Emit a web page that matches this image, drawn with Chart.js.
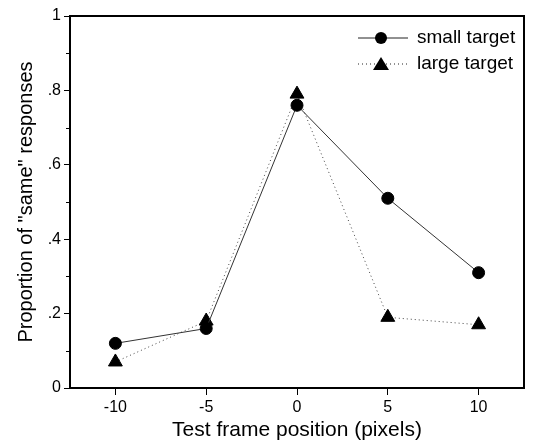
<!DOCTYPE html>
<html>
<head>
<meta charset="utf-8">
<script src="https://cdn.jsdelivr.net/npm/chart.js@4/dist/chart.umd.min.js"></script>
<style>
  html, body { margin: 0; padding: 0; background: #fff; }
  #wrap { width: 533px; height: 443px; }
</style>
</head>
<body>
<div id="wrap"><canvas id="chart" width="533" height="443"></canvas></div>
<script>
// data
var positions = [-10, -5, 0, 5, 10];
var smallTarget = [0.12, 0.16, 0.76, 0.51, 0.31];
var largeTarget = [0.07, 0.18, 0.79, 0.19, 0.17];
var xTicks = [-10, -5, 0, 5, 10];
var yTicks = [0, 0.2, 0.4, 0.6, 0.8, 1];
var yMinor = [0.1, 0.3, 0.5, 0.7, 0.9];

var FONT = "'Liberation Sans', Arial, Helvetica, sans-serif";

function pts(vals){
  return positions.map(function(x, i){ return {x: x, y: vals[i]}; });
}

function fmtY(v){
  if (Math.abs(v) < 1e-9) return '0';
  if (Math.abs(v - 1) < 1e-9) return '1';
  return v.toFixed(1).replace(/^0/, '');
}

// frame, minor ticks and the in-plot legend
var extras = {
  id: 'extras',
  afterDraw: function(chart){
    var c = chart.ctx, a = chart.chartArea, ys = chart.scales.y;
    c.save();
    c.strokeStyle = '#000';
    c.lineWidth = 2;
    c.beginPath();
    c.moveTo(a.left, a.top); c.lineTo(a.right, a.top); c.lineTo(a.right, a.bottom);
    c.stroke();
    c.lineWidth = 1;
    yMinor.forEach(function(v){
      var py = Math.round(ys.getPixelForValue(v)) + 0.5;
      c.beginPath(); c.moveTo(a.left - 4, py); c.lineTo(a.left, py); c.stroke();
    });

    // legend
    var lx = 358, ly = 38, gap = 26;
    chart.data.datasets.forEach(function(ds, i){
      var y = ly + i * gap;
      c.strokeStyle = '#222';
      c.lineWidth = 1;
      c.setLineDash(ds.borderDash || []);
      c.beginPath(); c.moveTo(lx, y); c.lineTo(lx + 50, y); c.stroke();
      c.setLineDash([]);
      c.fillStyle = '#000';
      c.beginPath();
      if (ds.pointStyle === 'triangle'){
        c.moveTo(lx + 23, y - 7); c.lineTo(lx + 31, y + 6); c.lineTo(lx + 15, y + 6); c.closePath();
      } else {
        c.arc(lx + 23, y, 6, 0, Math.PI * 2);
      }
      c.fill();
      c.font = '19px ' + FONT;
      c.textBaseline = 'middle';
      c.fillText(ds.label, lx + 59, y);
    });
    c.restore();
  }
};

new Chart(document.getElementById('chart'), {
  type: 'line',
  data: {
    datasets: [
      {
        label: 'small target',
        data: pts(smallTarget),
        borderColor: '#333',
        borderWidth: 1,
        pointStyle: 'circle',
        pointRadius: 6,
        pointBackgroundColor: '#000',
        pointBorderColor: '#000',
        tension: 0
      },
      {
        label: 'large target',
        data: pts(largeTarget),
        borderColor: '#444',
        borderWidth: 1,
        borderDash: [1, 3],
        pointStyle: 'triangle',
        pointRadius: 8,
        pointBackgroundColor: '#000',
        pointBorderColor: '#000',
        tension: 0
      }
    ]
  },
  options: {
    responsive: false,
    animation: false,
    layout: { padding: { top: 16, right: 3, left: 0, bottom: 0 } },
    plugins: { legend: { display: false }, tooltip: { enabled: false } },
    scales: {
      x: {
        type: 'linear',
        min: -12.5,
        max: 12.5,
        afterBuildTicks: function(s){ s.ticks = xTicks.map(function(v){ return {value: v}; }); },
        afterFit: function(s){ s.height = 55; },
        grid: { drawOnChartArea: false, color: '#000', tickLength: 7, tickWidth: 1 },
        border: { display: true, color: '#000', width: 2 },
        ticks: { color: '#000', font: { size: 16, family: FONT }, padding: 3, maxRotation: 0 },
        title: { display: true, text: 'Test frame position (pixels)', color: '#000',
                 font: { size: 21, family: FONT }, padding: { top: 0, bottom: 0 } }
      },
      y: {
        min: 0,
        max: 1,
        afterBuildTicks: function(s){ s.ticks = yTicks.map(function(v){ return {value: v}; }); },
        afterFit: function(s){ s.width = 70; },
        grid: { drawOnChartArea: false, color: '#000', tickLength: 6, tickWidth: 1 },
        border: { display: true, color: '#000', width: 2 },
        ticks: { color: '#000', font: { size: 16, family: FONT }, padding: 3,
                 callback: function(v){ return fmtY(v); } },
        title: { display: true, text: 'Proportion of "same" responses', color: '#000',
                 font: { size: 20, family: FONT }, padding: { top: 14, bottom: 0 } }
      }
    }
  },
  plugins: [extras]
});
</script>
</body>
</html>
